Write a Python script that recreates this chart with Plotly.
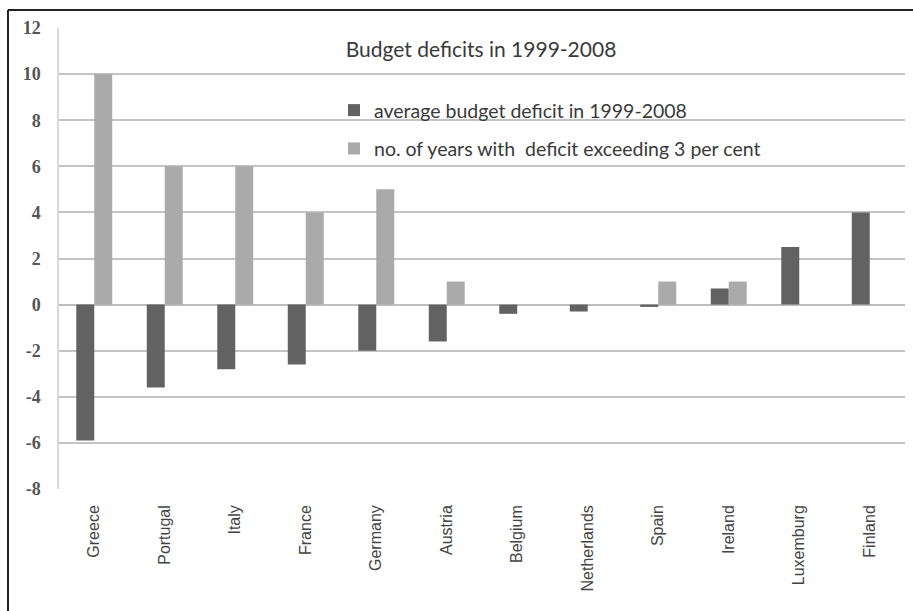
import plotly.graph_objects as go

countries = ["Greece", "Portugal", "Italy", "France", "Germany", "Austria",
             "Belgium", "Netherlands", "Spain", "Ireland", "Luxemburg", "Finland"]
avg_deficit = [-5.9, -3.6, -2.8, -2.6, -2.0, -1.6, -0.4, -0.3, -0.1, 0.7, 2.5, 4.0]
years_over_3 = [10, 6, 6, 4, 5, 1, 0, 0, 1, 1, 0, 0]
y_ticks = [-8, -6, -4, -2, 0, 2, 4, 6, 8, 10, 12]

L, R, T, B = 59, 8, 28, 121.5
W, H = 913, 611
pw, ph = W - L - R, H - T - B

fig = go.Figure()
fig.add_trace(go.Bar(x=countries, y=avg_deficit, name="average budget deficit in 1999-2008",
                     marker=dict(color="#626262", line=dict(width=0)), legendgroup="a"))
fig.add_trace(go.Bar(x=countries, y=years_over_3,
                     name="no. of years with  deficit exceeding 3 per cent",
                     marker=dict(color="#aaaaaa", line=dict(width=0)), legendgroup="b"))

def px_x(px):
    return (px - L) / pw

def px_y(py):
    return (H - B - py) / ph

fig.update_layout(
    width=W, height=H,
    margin=dict(l=L, r=R, t=T, b=B, pad=0),
    paper_bgcolor="white", plot_bgcolor="white",
    barmode="group", bargap=0.49, bargroupgap=0.0,
    title=dict(text="Budget deficits in 1999-2008", x=px_x(481), xref="paper", xanchor="center",
               y=1 - 50 / H, yref="container", yanchor="middle",
               font=dict(family="Lato", size=21, color="#3a3a3a")),
    legend=dict(x=px_x(334), y=px_y(91), xanchor="left", yanchor="top",
                traceorder="grouped", tracegroupgap=10,
                font=dict(family="Lato", size=19.5, color="#3a3a3a"),
                bgcolor="rgba(0,0,0,0)", itemwidth=30),
    xaxis=dict(tickangle=-90, tickfont=dict(family="Liberation Sans", size=16, color="#444444"),
               showgrid=False, showline=False, ticks="", ticklabelstandoff=12),
    yaxis=dict(range=[-8, 12], tickvals=y_ticks, ticktext=[str(v) for v in y_ticks],
               tickfont=dict(family="Liberation Serif", size=18, color="#555555", weight="bold"),
               showgrid=True, gridcolor="#c4c4c4", gridwidth=1.5,
               zeroline=True, zerolinecolor="#bdbdbd", zerolinewidth=1.5,
               showline=True, linecolor="#d8d8d8", linewidth=1.5, ticks="",
               ticklabelstandoff=13),
    shapes=[
        dict(type="line", xref="paper", yref="paper", x0=px_x(8), x1=px_x(915), y0=px_y(10), y1=px_y(10),
             line=dict(color="#222222", width=2)),
        dict(type="line", xref="paper", yref="paper", x0=px_x(8), x1=px_x(8), y0=px_y(10), y1=px_y(615),
             line=dict(color="#222222", width=2)),
    ],
)

fig.write_html("out.html")
